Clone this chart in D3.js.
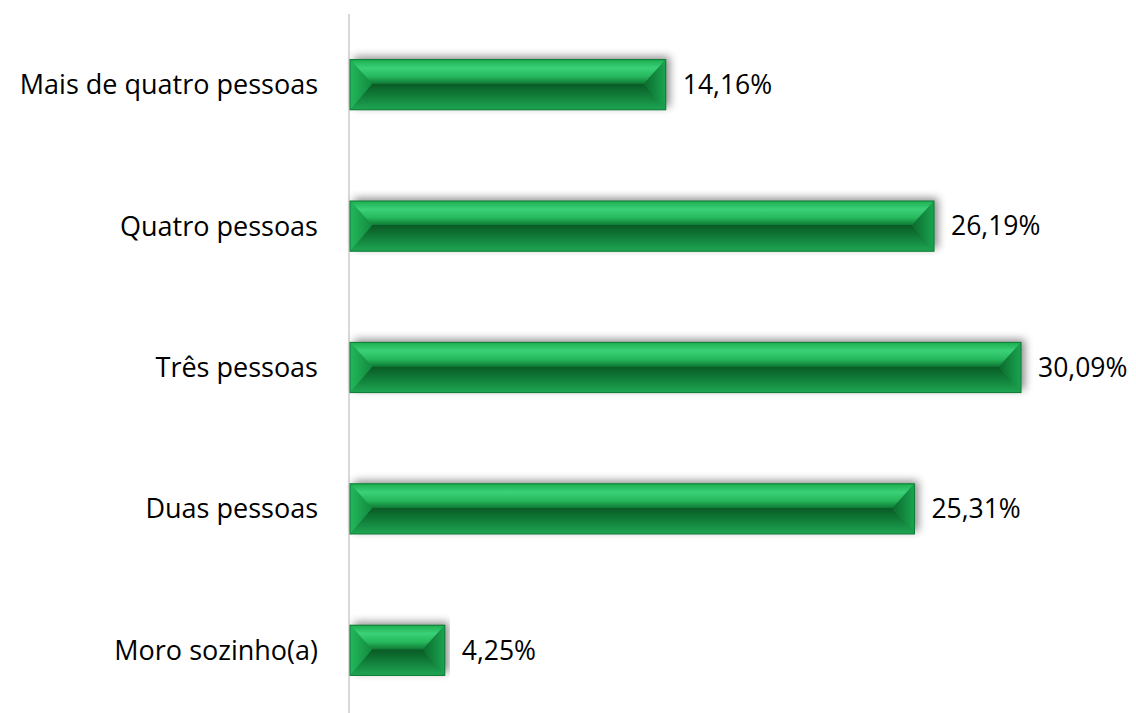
<!DOCTYPE html>
<html>
<head>
<meta charset="utf-8">
<script src="https://cdn.jsdelivr.net/npm/d3@7"></script>
<style>
  body { margin: 0; background: #fff; }
  text { font-family: "Open Sans", sans-serif; fill: #000; }
</style>
</head>
<body>
<div id="chart"></div>
<script>
const categories = ['Mais de quatro pessoas', 'Quatro pessoas', 'Três pessoas', 'Duas pessoas', 'Moro sozinho(a)'];
const values = [14.16, 26.19, 30.09, 25.31, 4.25];
const valueLabels = ['14,16%', '26,19%', '30,09%', '25,31%', '4,25%'];

const W = 1136;
const H = 713;
const margin = { top: 14, right: 20, bottom: -8, left: 349 };
const width = W - margin.left - margin.right;
const height = H - margin.top - margin.bottom;

const svg = d3.select('#chart').append('svg')
  .attr('width', W)
  .attr('height', H);

const defs = svg.append('defs');

// gradients for the bevelled faces
const grad = (id, x1, y1, x2, y2, stops) => {
  const g = defs.append('linearGradient').attr('id', id)
    .attr('x1', x1).attr('y1', y1).attr('x2', x2).attr('y2', y2);
  stops.forEach(([o, c]) => g.append('stop').attr('offset', o).attr('stop-color', c));
};
grad('topFace', 0, 0, 0, 1, [[0, '#1dae4f'], [0.35, '#3ad178'], [0.7, '#26b85c'], [1, '#0f7a36']]);
grad('botFace', 0, 0, 0, 1, [[0, '#0a5a25'], [0.35, '#0f7434'], [1, '#1ea653']]);
grad('leftFace', 0, 0, 1, 0, [[0, '#22b85a'], [1, '#138a40']]);
grad('rightFace', 1, 0, 0, 0, [[0, '#1aa550'], [1, '#0b6a2d']]);

const shadow = defs.append('filter').attr('id', 'shadow')
  .attr('x', '-5%').attr('y', '-40%').attr('width', '110%').attr('height', '180%');
shadow.append('feGaussianBlur').attr('in', 'SourceAlpha').attr('stdDeviation', 4).attr('result', 'b');
shadow.append('feOffset').attr('in', 'b').attr('dx', 4).attr('dy', -3).attr('result', 'o');
shadow.append('feComponentTransfer').attr('in', 'o').attr('result', 's')
  .append('feFuncA').attr('type', 'linear').attr('slope', 0.45);
const merge = shadow.append('feMerge');
merge.append('feMergeNode').attr('in', 's');
merge.append('feMergeNode').attr('in', 'SourceGraphic');

const g = svg.append('g')
  .attr('transform', `translate(${margin.left},${margin.top})`);

const x = d3.scaleLinear().domain([0, 30.09]).range([0, 671]);
const y = d3.scaleBand().domain(categories).range([0, height]).paddingInner(0.645).paddingOuter(0.3225);

const data = categories.map((c, i) => ({ cat: c, v: values[i], label: valueLabels[i] }));

// axis line
g.append('line')
  .attr('x1', 0).attr('x2', 0)
  .attr('y1', 0).attr('y2', H)
  .attr('stroke', '#d9d9d9').attr('stroke-width', 2);

const bars = g.selectAll('.bar')
  .data(data)
  .enter()
  .append('g')
  .attr('class', 'bar')
  .attr('transform', (d) => `translate(1,${y(d.cat)})`);

const bh = y.bandwidth();
const inset = 22;

bars.append('rect')
  .attr('width', (d) => x(d.v))
  .attr('height', bh)
  .attr('fill', '#1a9c4a')
  .attr('filter', 'url(#shadow)');

bars.append('path')
  .attr('fill', 'url(#topFace)')
  .attr('d', (d) => {
    const w = x(d.v);
    return `M0,0H${w}L${w - inset},${bh / 2 - 1}H${inset}Z`;
  });
bars.append('path')
  .attr('fill', 'url(#botFace)')
  .attr('d', (d) => {
    const w = x(d.v);
    return `M${inset},${bh / 2 - 1}H${w - inset}L${w},${bh}H0Z`;
  });
bars.append('path')
  .attr('fill', 'url(#leftFace)')
  .attr('d', `M0,0L${inset},${bh / 2 - 1}L0,${bh}Z`);
bars.append('path')
  .attr('fill', 'url(#rightFace)')
  .attr('d', (d) => {
    const w = x(d.v);
    return `M${w},0L${w - inset},${bh / 2 - 1}L${w},${bh}Z`;
  });
bars.append('rect')
  .attr('width', (d) => x(d.v))
  .attr('height', bh)
  .attr('fill', 'none')
  .attr('stroke', '#0c7a34')
  .attr('stroke-width', 1);

// value labels
bars.append('text')
  .attr('x', (d) => x(d.v) + 17)
  .attr('y', bh / 2)
  .attr('dy', '0.35em')
  .attr('font-size', 26.5)
  .text((d) => d.label);

// category labels
g.selectAll('.cat')
  .data(data)
  .enter()
  .append('text')
  .attr('class', 'cat')
  .attr('x', -31)
  .attr('y', (d) => y(d.cat) + bh / 2)
  .attr('dy', '0.35em')
  .attr('text-anchor', 'end')
  .attr('font-size', 27)
  .text((d) => d.cat);
</script>
</body>
</html>
